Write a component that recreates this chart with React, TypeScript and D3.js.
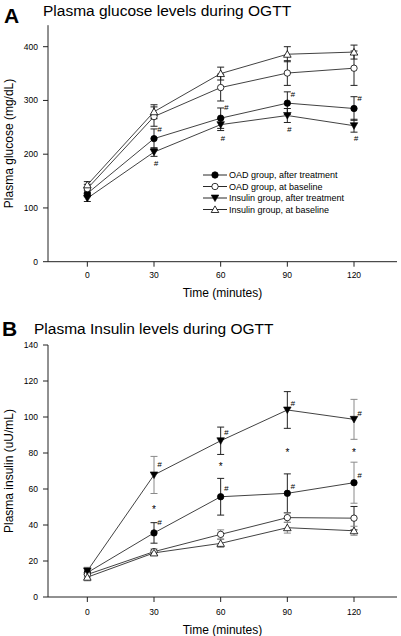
import React from "react";
import * as d3 from "d3";

// ---------- data ----------
const times = [0, 30, 60, 90, 120];
const seriesNames = [
  "OAD group, after treatment",
  "OAD group, at baseline",
  "Insulin group, after treatment",
  "Insulin group, at baseline",
];
const seriesMarkers = ["circleFilled", "circleOpen", "triDownFilled", "triUpOpen"];

// Panel A: glucose (mg/dL)
const glucoseOadAfter = [127, 229, 267, 295, 285];
const glucoseOadAfterErr = [6, 18, 19, 21, 22];
const glucoseOadBase = [136, 270, 324, 351, 360];
const glucoseOadBaseErr = [8, 18, 25, 23, 32];
const glucoseInsAfter = [118, 204, 255, 272, 253];
const glucoseInsAfterErr = [6, 8, 11, 13, 12];
const glucoseInsBase = [143, 279, 350, 386, 390];
const glucoseInsBaseErr = [6, 13, 12, 14, 13];
const glucoseTicks = [0, 100, 200, 300, 400];
const glucoseHash = [
  { t: 30, v: 247, side: "right" },
  { t: 30, v: 183, side: "below" },
  { t: 60, v: 287, side: "right" },
  { t: 60, v: 230, side: "below" },
  { t: 90, v: 312, side: "right" },
  { t: 90, v: 246, side: "below" },
  { t: 120, v: 304, side: "right" },
  { t: 120, v: 230, side: "below" },
];

// Panel B: insulin (uU/mL)
const insulinOadAfter = [13.5, 35.6, 55.7, 57.6, 63.5];
const insulinOadAfterErr = [2.5, 5.7, 10.2, 10.8, 11.4];
const insulinOadBase = [12.5, 25.2, 34.8, 44.1, 43.8];
const insulinOadBaseErr = [2.5, 1.5, 2.5, 2.6, 6.5];
const insulinInsAfter = [14.5, 67.8, 86.8, 103.9, 98.7];
const insulinInsAfterErr = [2, 10.3, 7.6, 10.2, 11.1];
const insulinInsBase = [11, 24.5, 29.8, 38.5, 36.8];
const insulinInsBaseErr = [2, 1.5, 2.2, 3, 2.5];
const insulinTicks = [0, 20, 40, 60, 80, 100, 120, 140];
const insulinHash = [
  { t: 30, v: 73.9, side: "right" },
  { t: 60, v: 91.8, side: "right" },
  { t: 90, v: 108, side: "right" },
  { t: 120, v: 102.4, side: "right" },
  { t: 30, v: 41.8, side: "right" },
  { t: 60, v: 60.4, side: "right" },
  { t: 90, v: 61.7, side: "right" },
  { t: 120, v: 67.8, side: "right" },
];
const insulinStar = [
  { t: 30, v: 48.9 },
  { t: 60, v: 73.3 },
  { t: 90, v: 81 },
  { t: 120, v: 81 },
];
// error bars drawn in grey in panel B: [series, point]
const insulinGreyBars = [
  [2, 0], [2, 1], [2, 4], [0, 0], [0, 4], [1, 0], [1, 1], [1, 2], [1, 3], [3, 0], [3, 1], [3, 2], [3, 3], [3, 4],
];

const FONT = "Liberation Sans, Arial, sans-serif";

function Marker({ kind, x, y }: { kind: string; x: number; y: number }) {
  if (kind === "circleFilled")
    return <circle cx={x} cy={y} r={3.2} fill="#000" stroke="#000" strokeWidth={0.8} />;
  if (kind === "circleOpen")
    return <circle cx={x} cy={y} r={3.2} fill="#fff" stroke="#000" strokeWidth={0.8} />;
  if (kind === "triDownFilled")
    return (
      <path
        d={`M${x - 3.8},${y - 3}L${x + 3.8},${y - 3}L${x},${y + 3.6}Z`}
        fill="#000"
        stroke="#000"
        strokeWidth={0.6}
      />
    );
  return (
    <path
      d={`M${x - 3.8},${y + 3}L${x + 3.8},${y + 3}L${x},${y - 3.6}Z`}
      fill="#fff"
      stroke="#000"
      strokeWidth={0.8}
    />
  );
}

type PanelProps = {
  top: number;
  axisTop: number;
  axisBottom: number;
  yMax: number;
  yTicks: number[];
  series: number[][];
  errors: number[][];
  greyBars: number[][];
  hashes: { t: number; v: number; side: string }[];
  stars: { t: number; v: number }[];
  letter: string;
  letterY: number;
  title: string;
  titleX: number;
  titleY: number;
  yTitle: string;
  legend: boolean;
  tickLabelDy: number;
  xTitleDy: number;
};

function Panel(p: PanelProps) {
  const x = d3.scaleLinear().domain([-17.7, 139.35]).range([48, 397]);
  const y = d3.scaleLinear().domain([0, p.yMax]).range([p.axisBottom, p.axisTop]);
  const line = d3
    .line<number>()
    .x((_, i) => x(times[i]))
    .y((d) => y(d));
  const isGrey = (s: number, i: number) => p.greyBars.some((g) => g[0] === s && g[1] === i);
  const yMid = (p.axisTop + p.axisBottom) / 2;
  return (
    <g>
      <text x={p.letter === "A" ? 4 : 2} y={p.letterY} fontFamily={FONT} fontWeight="bold" fontSize={21}>
        {p.letter}
      </text>
      <text x={p.titleX} y={p.titleY} fontFamily={FONT} fontSize={15.5}>
        {p.title}
      </text>
      {/* axes */}
      <line x1={48} x2={48} y1={p.axisTop} y2={p.axisBottom} stroke="#222" strokeWidth={1} />
      <line x1={48} x2={397} y1={p.axisBottom} y2={p.axisBottom} stroke="#222" strokeWidth={1} />
      {p.yTicks.map((t) => (
        <g key={"yt" + t}>
          <line x1={43} x2={48} y1={y(t)} y2={y(t)} stroke="#222" />
          <text x={38} y={y(t) + 3} textAnchor="end" fontFamily={FONT} fontSize={8.5}>
            {t}
          </text>
        </g>
      ))}
      {times.map((t) => (
        <g key={"xt" + t}>
          <line x1={x(t)} x2={x(t)} y1={p.axisBottom} y2={p.axisBottom + 5} stroke="#222" />
          <text x={x(t)} y={p.axisBottom + p.tickLabelDy} textAnchor="middle" fontFamily={FONT} fontSize={8.5}>
            {t}
          </text>
        </g>
      ))}
      <text x={222.5} y={p.axisBottom + p.xTitleDy} textAnchor="middle" fontFamily={FONT} fontSize={12}>
        Time (minutes)
      </text>
      <text
        transform={`translate(12.5,${yMid}) rotate(-90)`}
        textAnchor="middle"
        fontFamily={FONT}
        fontSize={12}
      >
        {p.yTitle}
      </text>
      {/* lines */}
      {p.series.map((s, si) => (
        <path key={"l" + si} d={line(s) || ""} fill="none" stroke="#111" strokeWidth={0.8} />
      ))}
      {/* error bars */}
      {p.series.map((s, si) =>
        s.map((v, i) => {
          const e = p.errors[si][i];
          const cx = x(times[i]);
          const c = isGrey(si, i) ? "#8a8a8a" : "#222";
          return (
            <g key={"e" + si + "-" + i} stroke={c} strokeWidth={1}>
              <line x1={cx} x2={cx} y1={y(v - e)} y2={y(v + e)} />
              <line x1={cx - 3.5} x2={cx + 3.5} y1={y(v - e)} y2={y(v - e)} />
              <line x1={cx - 3.5} x2={cx + 3.5} y1={y(v + e)} y2={y(v + e)} />
            </g>
          );
        })
      )}
      {/* markers */}
      {p.series.map((s, si) =>
        s.map((v, i) => <Marker key={"m" + si + "-" + i} kind={seriesMarkers[si]} x={x(times[i])} y={y(v)} />)
      )}
      {/* annotations */}
      {p.hashes.map((h, i) => (
        <text
          key={"h" + i}
          x={x(h.t) + (h.side === "right" ? 5.5 : 2)}
          y={y(h.v) + 3}
          textAnchor="middle"
          fontFamily={FONT}
          fontStyle="italic"
          fontSize={8}
        >
          #
        </text>
      ))}
      {p.stars.map((h, i) => (
        <text key={"s" + i} x={x(h.t)} y={y(h.v) + 4.5} textAnchor="middle" fontFamily={FONT} fontSize={10}>
          *
        </text>
      ))}
      {p.legend &&
        seriesNames.map((n, i) => {
          const ly = 175 + i * 11.5;
          return (
            <g key={"lg" + i}>
              <line x1={203} x2={227} y1={ly} y2={ly} stroke="#111" strokeWidth={0.9} />
              <Marker kind={seriesMarkers[i]} x={215} y={ly} />
              <text x={229} y={ly + 3.2} fontFamily={FONT} fontSize={9}>
                {n}
              </text>
            </g>
          );
        })}
    </g>
  );
}

export default function App() {
  return (
    <svg
      width={401}
      height={636}
      viewBox="0 0 401 636"
      style={{ position: "absolute", left: 0, top: 0, background: "#fff" }}
    >
      <rect width={401} height={636} fill="#fff" />
      <Panel
        top={0}
        axisTop={25.2}
        axisBottom={261.7}
        yMax={440}
        yTicks={glucoseTicks}
        series={[glucoseOadAfter, glucoseOadBase, glucoseInsAfter, glucoseInsBase]}
        errors={[glucoseOadAfterErr, glucoseOadBaseErr, glucoseInsAfterErr, glucoseInsBaseErr]}
        greyBars={[]}
        hashes={glucoseHash}
        stars={[]}
        letter="A"
        letterY={23.3}
        title="Plasma glucose levels during OGTT"
        titleX={43}
        titleY={15.5}
        yTitle="Plasma glucose (mg/dL)"
        legend={true}
        tickLabelDy={16.5}
        xTitleDy={35.5}
      />
      <Panel
        top={310}
        axisTop={345}
        axisBottom={597}
        yMax={140}
        yTicks={insulinTicks}
        series={[insulinOadAfter, insulinOadBase, insulinInsAfter, insulinInsBase]}
        errors={[insulinOadAfterErr, insulinOadBaseErr, insulinInsAfterErr, insulinInsBaseErr]}
        greyBars={insulinGreyBars}
        hashes={insulinHash}
        stars={insulinStar}
        letter="B"
        letterY={336}
        title="Plasma Insulin levels during OGTT"
        titleX={34}
        titleY={334}
        yTitle="Plasma insulin (uU/mL)"
        legend={false}
        tickLabelDy={17.5}
        xTitleDy={37}
      />
    </svg>
  );
}
